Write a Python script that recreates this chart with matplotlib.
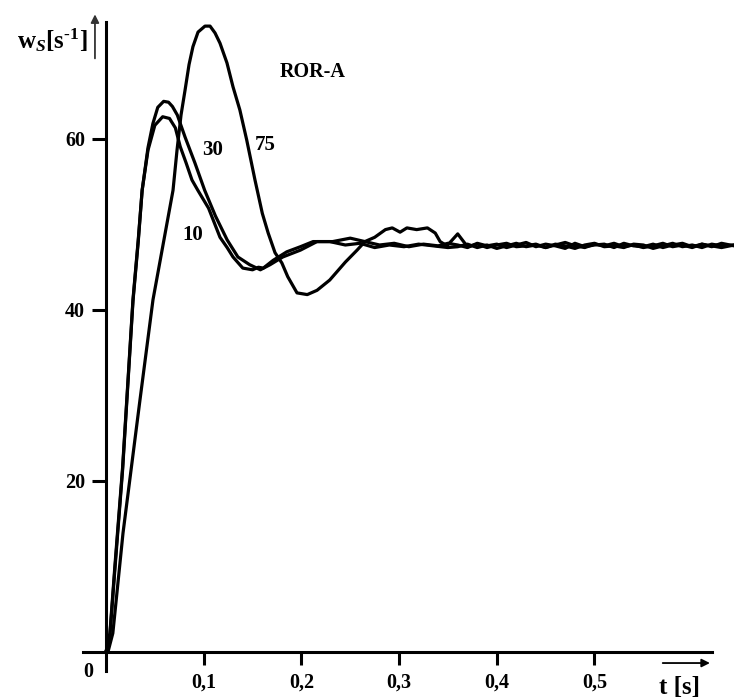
import numpy as np
import matplotlib
matplotlib.use("Agg")
import matplotlib.pyplot as plt

plt.rcParams['font.family'] = ['Liberation Serif', 'DejaVu Serif']
plt.rcParams['font.weight'] = 'bold'
plt.rcParams['mathtext.fontset'] = 'custom'
plt.rcParams['mathtext.rm'] = 'Liberation Serif:bold'
plt.rcParams['mathtext.it'] = 'Liberation Serif:italic:bold'
plt.rcParams['mathtext.bf'] = 'Liberation Serif:bold'

# steady state time grid (s)
t_ss = [0.36, 0.37, 0.38, 0.39, 0.40, 0.41, 0.42, 0.43, 0.44, 0.45,
        0.46, 0.47, 0.48, 0.49, 0.50, 0.51, 0.52, 0.53, 0.54, 0.55,
        0.56, 0.57, 0.58, 0.59, 0.60, 0.61, 0.62, 0.63, 0.643]

# curve "10"
t10 = [0.0, 0.004, 0.009, 0.017, 0.0276, 0.033, 0.037, 0.043, 0.050, 0.058,
       0.065, 0.071, 0.076, 0.082, 0.088, 0.094, 0.105, 0.1167, 0.124, 0.130,
       0.140, 0.150, 0.156, 0.161, 0.171, 0.185, 0.199, 0.212, 0.229, 0.245,
       0.26, 0.275, 0.29, 0.305, 0.32, 0.335, 0.35]
w10 = [0.0, 2.2, 9.9, 21.6, 41.2, 48.2, 54.0, 58.7, 61.6, 62.6,
       62.4, 61.3, 59.1, 57.2, 55.2, 54.0, 51.9, 48.5, 47.3, 46.2,
       44.9, 44.7, 45.0, 44.9, 45.8, 46.8, 47.4, 48.0, 48.0, 47.6,
       47.8, 47.3, 47.6, 47.4, 47.7, 47.5, 47.3]
w10_ss = [47.4, 47.7, 47.3, 47.6, 47.2, 47.5, 47.8, 47.4, 47.6, 47.3,
          47.7, 47.5, 47.2, 47.6, 47.8, 47.4, 47.5, 47.3, 47.7, 47.6,
          47.2, 47.5, 47.8, 47.4, 47.6, 47.3, 47.7, 47.5, 47.6]

# curve "30"
t30 = [0.0, 0.004, 0.009, 0.017, 0.0276, 0.033, 0.037, 0.043, 0.048, 0.053,
       0.059, 0.064, 0.068, 0.073, 0.081, 0.091, 0.101, 0.112, 0.124, 0.135,
       0.147, 0.158, 0.168, 0.181, 0.199, 0.216, 0.232, 0.250, 0.265, 0.28,
       0.295, 0.31, 0.325, 0.34, 0.35]
w30 = [0.0, 2.0, 9.5, 21.3, 41.0, 48.0, 54.0, 59.0, 61.8, 63.7,
       64.4, 64.3, 63.8, 62.8, 60.2, 57.2, 54.0, 51.0, 48.2, 46.2,
       45.3, 44.7, 45.3, 46.2, 47.0, 48.0, 48.0, 48.4, 48.0, 47.6,
       47.8, 47.4, 47.7, 47.5, 47.8]
w30_ss = [47.6, 47.3, 47.8, 47.5, 47.7, 47.3, 47.6, 47.9, 47.4, 47.7,
          47.5, 47.2, 47.8, 47.4, 47.6, 47.7, 47.3, 47.8, 47.5, 47.4,
          47.7, 47.3, 47.6, 47.8, 47.4, 47.7, 47.5, 47.3, 47.6]

# curve "75"
t75 = [0.0, 0.002, 0.007, 0.0174, 0.0348, 0.0481, 0.0686, 0.0727, 0.0768, 0.0809,
       0.085, 0.089, 0.0942, 0.1013, 0.1065, 0.1116, 0.1167, 0.1238, 0.130, 0.137,
       0.144, 0.1525, 0.160, 0.166, 0.173, 0.180, 0.186, 0.1955, 0.206, 0.216,
       0.229, 0.245, 0.257, 0.265, 0.275, 0.286, 0.293, 0.301, 0.308, 0.318,
       0.329, 0.337, 0.342, 0.349]
w75 = [0.0, 0.0, 2.2, 13.9, 29.5, 41.2, 54.0, 58.7, 62.8, 65.7,
       68.7, 70.8, 72.5, 73.2, 73.2, 72.4, 71.2, 68.9, 66.1, 63.4,
       59.9, 55.2, 51.3, 49.0, 46.7, 45.5, 43.9, 42.0, 41.8, 42.3,
       43.5, 45.6, 47.0, 48.0, 48.5, 49.4, 49.6, 49.1, 49.6, 49.4,
       49.6, 49.0, 48.0, 47.5]
w75_ss = [48.9, 47.4, 47.7, 47.3, 47.6, 47.8, 47.4, 47.5, 47.7, 47.3,
          47.6, 47.9, 47.5, 47.3, 47.7, 47.5, 47.8, 47.4, 47.6, 47.3,
          47.5, 47.8, 47.4, 47.6, 47.3, 47.7, 47.4, 47.8, 47.5]

curves = [(t10, w10, w10_ss), (t30, w30, w30_ss), (t75, w75, w75_ss)]

xticks = [0.1, 0.2, 0.3, 0.4, 0.5]
xticklabels = ['0,1', '0,2', '0,3', '0,4', '0,5']
yticks = [20, 40, 60]
yticklabels = ['20', '40', '60']

fig = plt.figure(figsize=(7.34, 6.98), dpi=100)
ax = fig.add_axes([83 / 734, 27 / 698, 651 / 734, 659 / 698])
ax.set_xlim(-0.02354, 0.6428)
ax.set_ylim(-2.222, 74.85)

for t, w, wss in curves:
    ax.plot(list(t) + t_ss, list(w) + wss, color='black', lw=2.3,
            solid_joinstyle='round', clip_on=False)

for s in ['top', 'right']:
    ax.spines[s].set_visible(False)
ax.spines['left'].set_position(('data', 0))
ax.spines['bottom'].set_position(('data', 0))
ax.spines['left'].set_bounds(-2.222, 73.7)
ax.spines['bottom'].set_bounds(-0.02354, 0.620)
ax.spines['left'].set_linewidth(2.2)
ax.spines['bottom'].set_linewidth(2.2)

ax.set_xticks(xticks)
ax.set_xticklabels(xticklabels)
ax.set_yticks(yticks)
ax.set_yticklabels(yticklabels)
ax.tick_params(axis='both', direction='out', width=2.2, labelsize=14.5)
ax.tick_params(axis='x', length=9.5, pad=5)
ax.tick_params(axis='y', length=10, pad=5)
for lab in ax.get_xticklabels() + ax.get_yticklabels():
    lab.set_fontweight('bold')

ax.text(-0.0184, -2.34, '0', fontsize=14.5, fontweight='bold',
        ha='center', va='center')

# axis captions with arrows
ax.text(-0.0184, 71.6, r'$\mathrm{w}_{\mathit{S}}\mathrm{[s}^{\text{-}\mathrm{1}}\mathrm{]}$',
        fontsize=18, ha='right', va='center')
ax.annotate('', xy=(-0.0113, 74.9), xytext=(-0.0113, 69.1),
            arrowprops=dict(arrowstyle='-|>', color='#333333', lw=1.3,
                            mutation_scale=12),
            annotation_clip=False)
ax.annotate('', xy=(0.621, -1.29), xytext=(0.567, -1.29),
            arrowprops=dict(arrowstyle='-|>', color='black', lw=1.3,
                            mutation_scale=12),
            annotation_clip=False)
ax.text(0.5875, -4.1, 't [s]', fontsize=18, fontweight='bold',
        ha='center', va='center')

ax.text(0.2118, 67.8, 'ROR-A', fontsize=14.5, fontweight='bold', ha='center', va='center')
ax.text(0.1095, 58.7, '30', fontsize=15, fontweight='bold', ha='center', va='center')
ax.text(0.1627, 59.3, '75', fontsize=15, fontweight='bold', ha='center', va='center')
ax.text(0.089, 48.8, '10', fontsize=15, fontweight='bold', ha='center', va='center')

fig.savefig('out.png', dpi=100)
